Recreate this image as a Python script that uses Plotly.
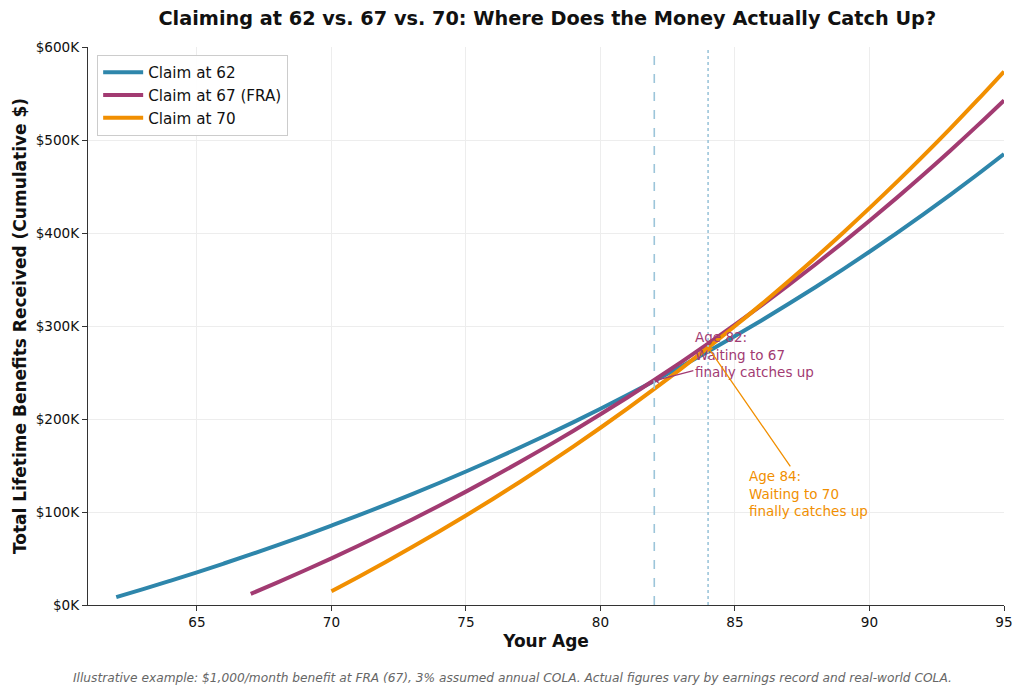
import plotly.graph_objects as go

ages_62 = list(range(62, 96))
cum_62 = [8400, 17052, 25964, 35142, 44597, 54335, 64365, 74696, 85336, 96297,
          107585, 119213, 131189, 143525, 156231, 169318, 182797, 196681, 210982, 225711,
          240883, 256509, 272604, 289182, 306258, 323846, 341961, 360620, 379838, 399633,
          420022, 441023, 462654, 484933]

ages_67 = list(range(67, 96))
cum_67 = [12000, 24360, 37091, 50204, 63710, 77621, 91950, 106708, 121909, 137567,
          153694, 170304, 187413, 205036, 223187, 241883, 261139, 280973, 301402, 322445,
          344118, 366441, 389435, 413118, 437511, 462637, 488517, 515171, 542626]

ages_70 = list(range(70, 96))
cum_70 = [14880, 30206, 45993, 62252, 79000, 96250, 114017, 132318, 151167, 170583,
          190580, 211177, 232393, 254244, 276750, 299934, 323813, 348407, 373739, 399831,
          426707, 454388, 482900, 512268, 542515, 573669]

series_names = ["Claim at 62", "Claim at 67 (FRA)", "Claim at 70"]
colors = ["#2E86AB", "#A23B72", "#F18F01"]

y_tickvals = [0, 100000, 200000, 300000, 400000, 500000, 600000]
y_ticktext = ["$0K", "$100K", "$200K", "$300K", "$400K", "$500K", "$600K"]
x_tickvals = [65, 70, 75, 80, 85, 90, 95]

breakeven_67 = 82
breakeven_70 = 84
breakeven_67_value = 241000
breakeven_70_value = 277000

font_family = "DejaVu Sans"

fig = go.Figure()
for ages, vals, name, col in zip([ages_62, ages_67, ages_70], [cum_62, cum_67, cum_70], series_names, colors):
    fig.add_trace(go.Scatter(x=ages, y=vals, mode="lines", name=name,
                             line=dict(color=col, width=4, shape="spline")))

fig.add_shape(type="line", xref="x", yref="paper", x0=breakeven_67, x1=breakeven_67, y0=0, y1=1,
              line=dict(color="#9cc5da", width=1.6, dash="dash"), layer="above")
fig.add_shape(type="line", xref="x", yref="paper", x0=breakeven_70, x1=breakeven_70, y0=0, y1=1,
              line=dict(color="#9cc5da", width=1.6, dash="dot"), layer="above")

fig.add_annotation(x=breakeven_67, y=breakeven_67_value, xref="x", yref="y",
                   ax=85.72, ay=269000, axref="x", ayref="y",
                   text="Age 82:<br>Waiting to 67<br>finally catches up", align="left",
                   font=dict(family=font_family, size=13.5, color="#A23B72"),
                   showarrow=True, arrowhead=1, arrowsize=1, arrowwidth=1.3, arrowcolor="#A23B72")
fig.add_annotation(x=breakeven_70, y=breakeven_70_value, xref="x", yref="y",
                   ax=87.75, ay=120000, axref="x", ayref="y",
                   text="Age 84:<br>Waiting to 70<br>finally catches up", align="left",
                   font=dict(family=font_family, size=13.5, color="#F18F01"),
                   showarrow=True, arrowhead=1, arrowsize=1, arrowwidth=1.3, arrowcolor="#F18F01")

fig.add_annotation(x=0.463, y=-0.13, xref="paper", yref="paper", showarrow=False,
                   text="<i>Illustrative example: $1,000/month benefit at FRA (67), 3% assumed annual COLA. Actual figures vary by earnings record and real-world COLA.</i>",
                   font=dict(family=font_family, size=12.2, color="#666666"), xanchor="center", yanchor="middle")

fig.update_layout(
    width=1008, height=678,
    margin=dict(l=80, r=12, t=39, b=81, autoexpand=False),
    paper_bgcolor="white", plot_bgcolor="white",
    font=dict(family=font_family, size=13.6, color="#111111"),
    title=dict(text="<b>Claiming at 62 vs. 67 vs. 70: Where Does the Money Actually Catch Up?</b>",
               x=0.535, xanchor="center", y=0.985, yanchor="middle",
               font=dict(family=font_family, size=19.3, color="#111111")),
    showlegend=True,
    legend=dict(x=0.01, y=0.986, xanchor="left", yanchor="top", itemwidth=40,
                bgcolor="rgba(255,255,255,0.9)", bordercolor="#cccccc", borderwidth=1,
                font=dict(family=font_family, size=15.2)),
    xaxis=dict(range=[60.95, 95], tickvals=x_tickvals, showgrid=True, gridcolor="#ededed", gridwidth=1,
               zeroline=False, showline=True, linecolor="#333333", linewidth=1.2,
               ticks="outside", ticklen=5, tickcolor="#333333", automargin=False,
               title=dict(text="<b>Your Age</b>", font=dict(family=font_family, size=17), standoff=5)),
    yaxis=dict(range=[0, 600000], tickvals=y_tickvals, ticktext=y_ticktext, showgrid=True,
               gridcolor="#ededed", gridwidth=1, zeroline=False, showline=True, linecolor="#333333",
               linewidth=1.2, ticks="outside", ticklen=5, tickcolor="#333333", automargin=False,
               title=dict(text="<b>Total Lifetime Benefits Received (Cumulative $)</b>",
                          font=dict(family=font_family, size=17), standoff=4)),
)

fig.write_html("out.html")
